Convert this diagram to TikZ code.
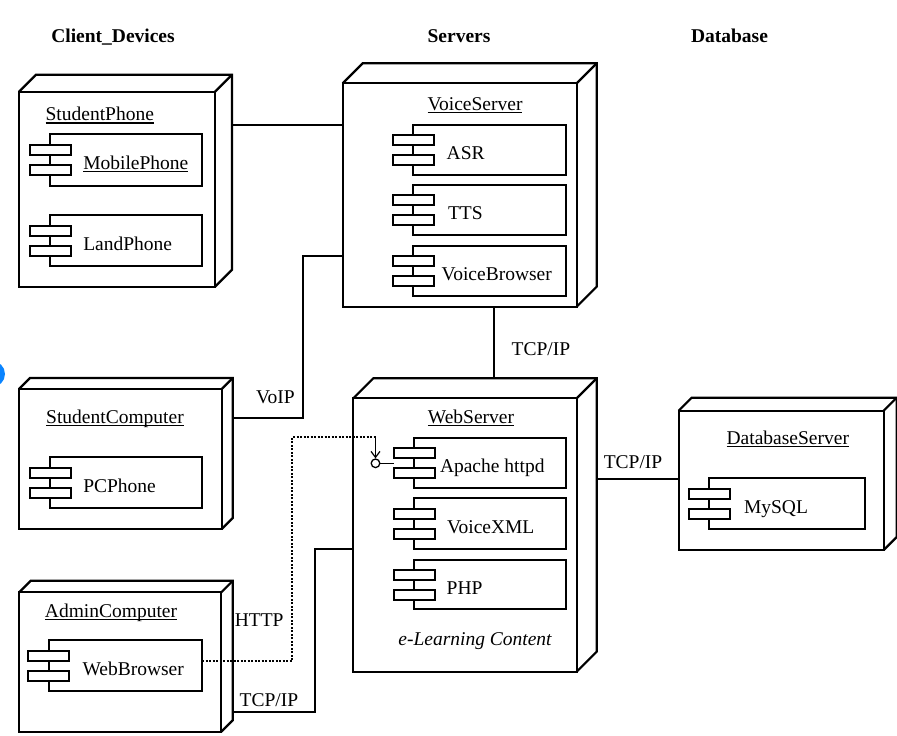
\documentclass[tikz,border=0pt]{standalone}
\usepackage{fontspec}
\setmainfont{Liberation Serif}
\usetikzlibrary{fit,arrows.meta,calc}
\definecolor{dotblue}{HTML}{0A84FF}
\newcommand\uln[1]{\setbox0\hbox{#1}\leavevmode\rlap{\rule[-3pt]{\wd0}{1.1pt}}\box0}
\tikzset{
 nodeline/.style={line width=2.2pt, line join=miter},
 nodeface/.style={draw, line width=2.2pt, inner sep=0pt, outer sep=0pt, rectangle},
 compface/.style={draw, line width=1.8pt, inner sep=0pt, outer sep=0pt, rectangle},
 tabline/.style={draw, fill=white, line width=2pt},
 lbl/.style={inner sep=0pt, outer sep=0pt, font=\fontsize{19.5}{23}\selectfont},
 hdr/.style={lbl, font=\fontsize{19.5}{23}\selectfont\bfseries},
 conn/.style={line width=1.8pt},
 httpline/.style={line width=2.1pt, dash pattern=on 2pt off 1.5pt}
}
% node: name, x1, y1, x2, y2, depth
\newcommand\umlnode[6]{%
 \node[nodeface, fit={(#2,#3) (#4,#5)}] (#1) {};
 \coordinate (#1-back) at ([shift={(#6,-#6)}]#1.north east);
 \draw[nodeline] (#1.north west) -- ++(#6,-#6) -- (#1-back) -- ([shift={(#6,-#6)}]#1.south east) -- (#1.south east);
 \draw[nodeline] (#1.north east) -- (#1-back);
}
% component: name, x1, y1, x2, y2, text x, text
\newcommand\umlcomp[7]{%
 \node[compface, fit={(#2,#3) (#4,#5)}] (#1) {};
 \draw[tabline] ([shift={(-20.5,-15)}]#1.west) rectangle ([shift={(20.5,-5)}]#1.west);
 \draw[tabline] ([shift={(-20.5,5)}]#1.west) rectangle ([shift={(20.5,15)}]#1.west);
 \node[lbl, anchor=base west] (#1-t) at (#6, {(#3+#5)/2+9.5}) {#7};
}
\begin{document}
\begin{tikzpicture}[x=1pt,y=-1pt]
\useasboundingbox (0,0) rectangle (897,736);
\fill[dotblue] (-8,374) circle (13);

% headers
\node[hdr, anchor=base] (hclient) at (113,42) {Client\_Devices};
\node[hdr, anchor=base] (hservers) at (459,42) {Servers};
\node[hdr, anchor=base] (hdb) at (729.5,42) {Database};

% deployment nodes
\umlnode{studentphone}{19}{91.7}{215}{286.7}{17}
\umlnode{voiceserver}{342.7}{83.3}{576.7}{306.7}{20}
\umlnode{studentcomputer}{19}{389}{221.7}{529}{11}
\umlnode{webserver}{353.3}{398.3}{576.7}{671.7}{20}
\umlnode{admincomputer}{19.2}{592.3}{221.3}{731.7}{11.5}
\umlnode{dbserver}{678.6}{410.7}{883.7}{550}{13}

% node labels
\node[lbl, anchor=base] (studentphone-l) at (99.8,120.5) {\uln{StudentPhone}};
\node[lbl, anchor=base] (voiceserver-l) at (475,110) {\uln{VoiceServer}};
\node[lbl, anchor=base] (studentcomputer-l) at (115,423) {\uln{StudentComputer}};
\node[lbl, anchor=base] (webserver-l) at (471,423) {\uln{WebServer}};
\node[lbl, anchor=base] (admincomputer-l) at (111,617) {\uln{AdminComputer}};
\node[lbl, anchor=base] (dbserver-l) at (787.8,444) {\uln{DatabaseServer}};

% components
\umlcomp{mobilephone}{50}{134}{201.7}{185.7}{83.3}{\uln{MobilePhone}}
\umlcomp{landphone}{50}{215}{201.7}{266}{83.3}{LandPhone}
\umlcomp{asr}{413.3}{125}{566}{175}{446.7}{ASR}
\umlcomp{tts}{413.3}{185}{566}{235}{448}{TTS}
\umlcomp{voicebrowser}{413.3}{246}{566}{296}{441.7}{VoiceBrowser}
\umlcomp{pcphone}{50}{457.3}{201.7}{508.3}{83.3}{PCPhone}
\umlcomp{apache}{414}{438.3}{566}{488.3}{440}{Apache httpd}
\umlcomp{voicexml}{414}{498.3}{566}{549}{447}{VoiceXML}
\umlcomp{php}{414}{560}{566}{609.3}{446.7}{PHP}
\umlcomp{webbrowser}{48.7}{640}{202}{691}{82.5}{WebBrowser}
\umlcomp{mysql}{709.3}{478.3}{865}{529}{744}{MySQL}

\node[lbl, anchor=base, font=\fontsize{19.5}{23}\selectfont\itshape] (elearn) at (475,645) {e-Learning Content};

% interface
\node[circle, draw, line width=1.3pt, minimum size=8.6pt, inner sep=0pt, fill=white] (iface) at (375.5,463.3) {};
\draw[line width=1.3pt] (iface.east) -- ([xshift=-20.5pt]apache.west);

% connectors
\draw[conn] (studentphone-back |- 0,125) -- (voiceserver.west |- 0,125);
\draw[conn] (voiceserver.west |- 0,256) -- (303,256) -- (303,418) -- (studentcomputer-back |- 0,418);
\draw[conn] (494.3,0 |- voiceserver.south) -- (494.3,0 |- webserver-back);
\draw[conn] (webserver-back |- 0,479.3) -- (dbserver.west |- 0,479.3);
\draw[conn] (admincomputer-back |- 0,711.7) -- (315.3,711.7) -- (315.3,549.3) -- (webserver.west |- 0,549.3);
\draw[httpline] (webbrowser.east |- 0,661) -- (292,661) -- (292,437) -- (375.5,437);
\draw[line width=1.2pt, -{Straight Barb[length=6pt,width=9pt]}] (375.5,437) -- (iface.north);

% connector labels
\node[lbl, anchor=base west] (voip) at (256,403) {VoIP};
\node[lbl, anchor=base west] (tcp1) at (511.7,355) {TCP/IP};
\node[lbl, anchor=base west] (http) at (234.8,626) {HTTP};
\node[lbl, anchor=base west] (tcp2) at (239.7,706.7) {TCP/IP};
\node[lbl, anchor=base west] (tcp3) at (603.8,468.3) {TCP/IP};
\end{tikzpicture}
\end{document}
